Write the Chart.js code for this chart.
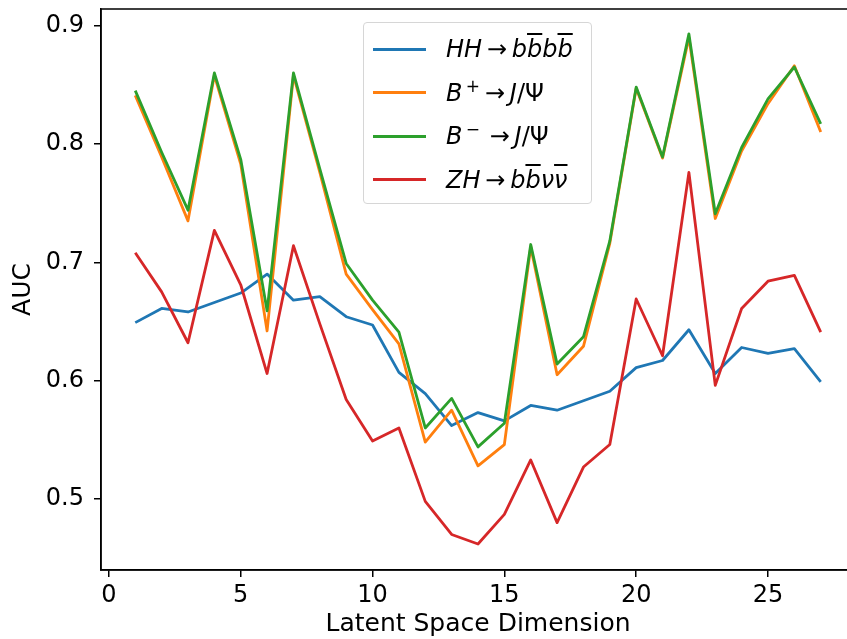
<!DOCTYPE html>
<html>
<head>
<meta charset="utf-8">
<script src="https://cdn.jsdelivr.net/npm/chart.js@4"></script>
<style>
    html, body { margin: 0; padding: 0; background: #fff; overflow: hidden; }
    #wrap { position: relative; width: 860px; height: 639px; }
    #legend {
        position: absolute; left: 363px; top: 22px; width: 229px; height: 182px;
        box-sizing: border-box; border: 1px solid #d6d6d6; border-radius: 4px;
        background: rgba(255,255,255,.8);
        font-family: 'DejaVu Sans', sans-serif; font-size: 24px; color: #000;
    }
    .row { position: absolute; left: 0; height: 30px; display: flex; align-items: center; white-space: nowrap; }
    .swatch { width: 53px; height: 0; border-top: 3px solid; margin-left: 9px; margin-right: 20px; }
    .ov { text-decoration: overline; text-decoration-thickness: 1.5px; }
    sup { font-size: 17px; line-height: 0; }
</style>
</head>
<body>
<div id="wrap">
    <canvas id="chart" width="860" height="639"></canvas>
    <div id="legend"></div>
</div>
<script>
'use strict';

// latent space dimension
const dims = [1, 2, 3, 4, 5, 6, 7, 8, 9, 10, 11, 12, 13, 14, 15, 16, 17, 18, 19, 20, 21, 22, 23, 24, 25, 26, 27];

const aucHH = [0.649, 0.661, 0.658, 0.666, 0.674, 0.690, 0.668, 0.671, 0.654, 0.647, 0.607, 0.589, 0.562,
    0.573, 0.566, 0.579, 0.575, 0.583, 0.591, 0.611, 0.617, 0.643, 0.606, 0.628, 0.623, 0.627, 0.599];

const aucBPlus = [0.841, 0.789, 0.735, 0.858, 0.783, 0.642, 0.858, 0.776, 0.690, 0.660, 0.631, 0.548, 0.575,
    0.528, 0.546, 0.713, 0.605, 0.629, 0.716, 0.847, 0.788, 0.890, 0.737, 0.794, 0.834, 0.866, 0.810];

const aucBMinus = [0.845, 0.793, 0.744, 0.860, 0.787, 0.659, 0.860, 0.779, 0.699, 0.668, 0.641, 0.560, 0.585,
    0.544, 0.564, 0.715, 0.614, 0.637, 0.718, 0.848, 0.789, 0.893, 0.741, 0.797, 0.838, 0.865, 0.817];

const aucZH = [0.708, 0.675, 0.632, 0.727, 0.681, 0.606, 0.714, 0.648, 0.584, 0.549, 0.560, 0.498, 0.470,
    0.462, 0.487, 0.533, 0.480, 0.527, 0.546, 0.669, 0.621, 0.776, 0.596, 0.661, 0.684, 0.689, 0.641];

const seriesLabels = ['HH → bb̄bb̄', 'B⁺ → J/Ψ', 'B⁻ → J/Ψ', 'ZH → bb̄νν̄'];

const legendHtml = [
    '<i>HH</i>&thinsp;→&thinsp;<i>b<span class="ov">b</span>b<span class="ov">b</span></i>',
    '<i>B</i><sup>&thinsp;+</sup>&thinsp;→&thinsp;<i>J</i>/Ψ',
    '<i>B</i><sup>&thinsp;−</sup>&thinsp;&thinsp;→&thinsp;<i>J</i>/Ψ',
    '<i>ZH</i>&thinsp;→&thinsp;<i>b<span class="ov">b</span>ν<span class="ov">ν</span></i>'
];

const xTicks = [0, 5, 10, 15, 20, 25];
const yTicks = [0.5, 0.6, 0.7, 0.8, 0.9];

const colors = ['#1f77b4', '#ff7f0e', '#2ca02c', '#d62728'];

function points(values) {
    return values.map((v, i) => ({ x: dims[i], y: v }));
}

Chart.defaults.font.family = "'DejaVu Sans', sans-serif";
Chart.defaults.font.size = 24;
Chart.defaults.color = '#000';

const frame = {
    id: 'frame',
    afterDraw(chart) {
        const { ctx, chartArea: a } = chart;
        ctx.save();
        ctx.strokeStyle = '#000';
        ctx.lineWidth = 1.5;
        ctx.strokeRect(a.left, a.top, a.right - a.left, a.bottom - a.top);
        ctx.restore();
    }
};

const htmlLegend = {
    id: 'htmlLegend',
    afterUpdate(chart) {
        const box = document.getElementById('legend');
        box.innerHTML = '';
        chart.data.datasets.forEach((ds, i) => {
            const row = document.createElement('div');
            row.className = 'row';
            row.style.top = (11 + i * 43.5) + 'px';
            const sw = document.createElement('span');
            sw.className = 'swatch';
            sw.style.borderTopColor = ds.borderColor;
            const txt = document.createElement('span');
            txt.innerHTML = legendHtml[i];
            row.appendChild(sw);
            row.appendChild(txt);
            box.appendChild(row);
        });
    }
};

const series = [aucHH, aucBPlus, aucBMinus, aucZH];

new Chart(document.getElementById('chart'), {
    type: 'line',
    data: {
        datasets: series.map((values, i) => ({
            label: seriesLabels[i],
            data: points(values),
            borderColor: colors[i],
            backgroundColor: colors[i],
            borderWidth: 2.8,
            borderJoinStyle: 'round',
            pointRadius: 0,
            tension: 0,
            fill: false,
            order: 4 - i
        }))
    },
    options: {
        responsive: false,
        animation: false,
        layout: {
            padding: { left: 0, top: 9, right: 5, bottom: 0 }
        },
        plugins: {
            legend: { display: false },
            tooltip: { enabled: false }
        },
        scales: {
            x: {
                type: 'linear',
                min: -0.3,
                max: 28.3,
                afterBuildTicks(scale) {
                    scale.ticks = xTicks.map(v => ({ value: v }));
                },
                afterFit(scale) {
                    scale.height = 69;
                    scale.paddingLeft = 0;
                    scale.paddingRight = 0;
                },
                border: { display: true, color: '#000', width: 1.5 },
                grid: {
                    display: true,
                    drawOnChartArea: false,
                    drawTicks: true,
                    tickLength: 7,
                    color: '#000',
                    lineWidth: 1.5
                },
                ticks: {
                    padding: 4,
                    maxRotation: 0,
                    callback: v => String(v)
                },
                title: {
                    display: true,
                    text: 'Latent Space Dimension',
                    font: { size: 25 },
                    padding: { top: 0, bottom: 0 }
                }
            },
            y: {
                type: 'linear',
                min: 0.44,
                max: 0.914,
                afterBuildTicks(scale) {
                    scale.ticks = yTicks.map(v => ({ value: v }));
                },
                afterFit(scale) {
                    scale.width = 101;
                    scale.paddingTop = 0;
                    scale.paddingBottom = 0;
                },
                border: { display: true, color: '#000', width: 1.5 },
                grid: {
                    display: true,
                    drawOnChartArea: false,
                    drawTicks: true,
                    tickLength: 7,
                    color: '#000',
                    lineWidth: 1.5
                },
                ticks: {
                    padding: 10,
                    callback: v => v.toFixed(1)
                },
                title: {
                    display: true,
                    text: 'AUC',
                    font: { size: 25 },
                    padding: { top: 8, bottom: 0 }
                }
            }
        }
    },
    plugins: [frame, htmlLegend]
});
</script>
</body>
</html>
